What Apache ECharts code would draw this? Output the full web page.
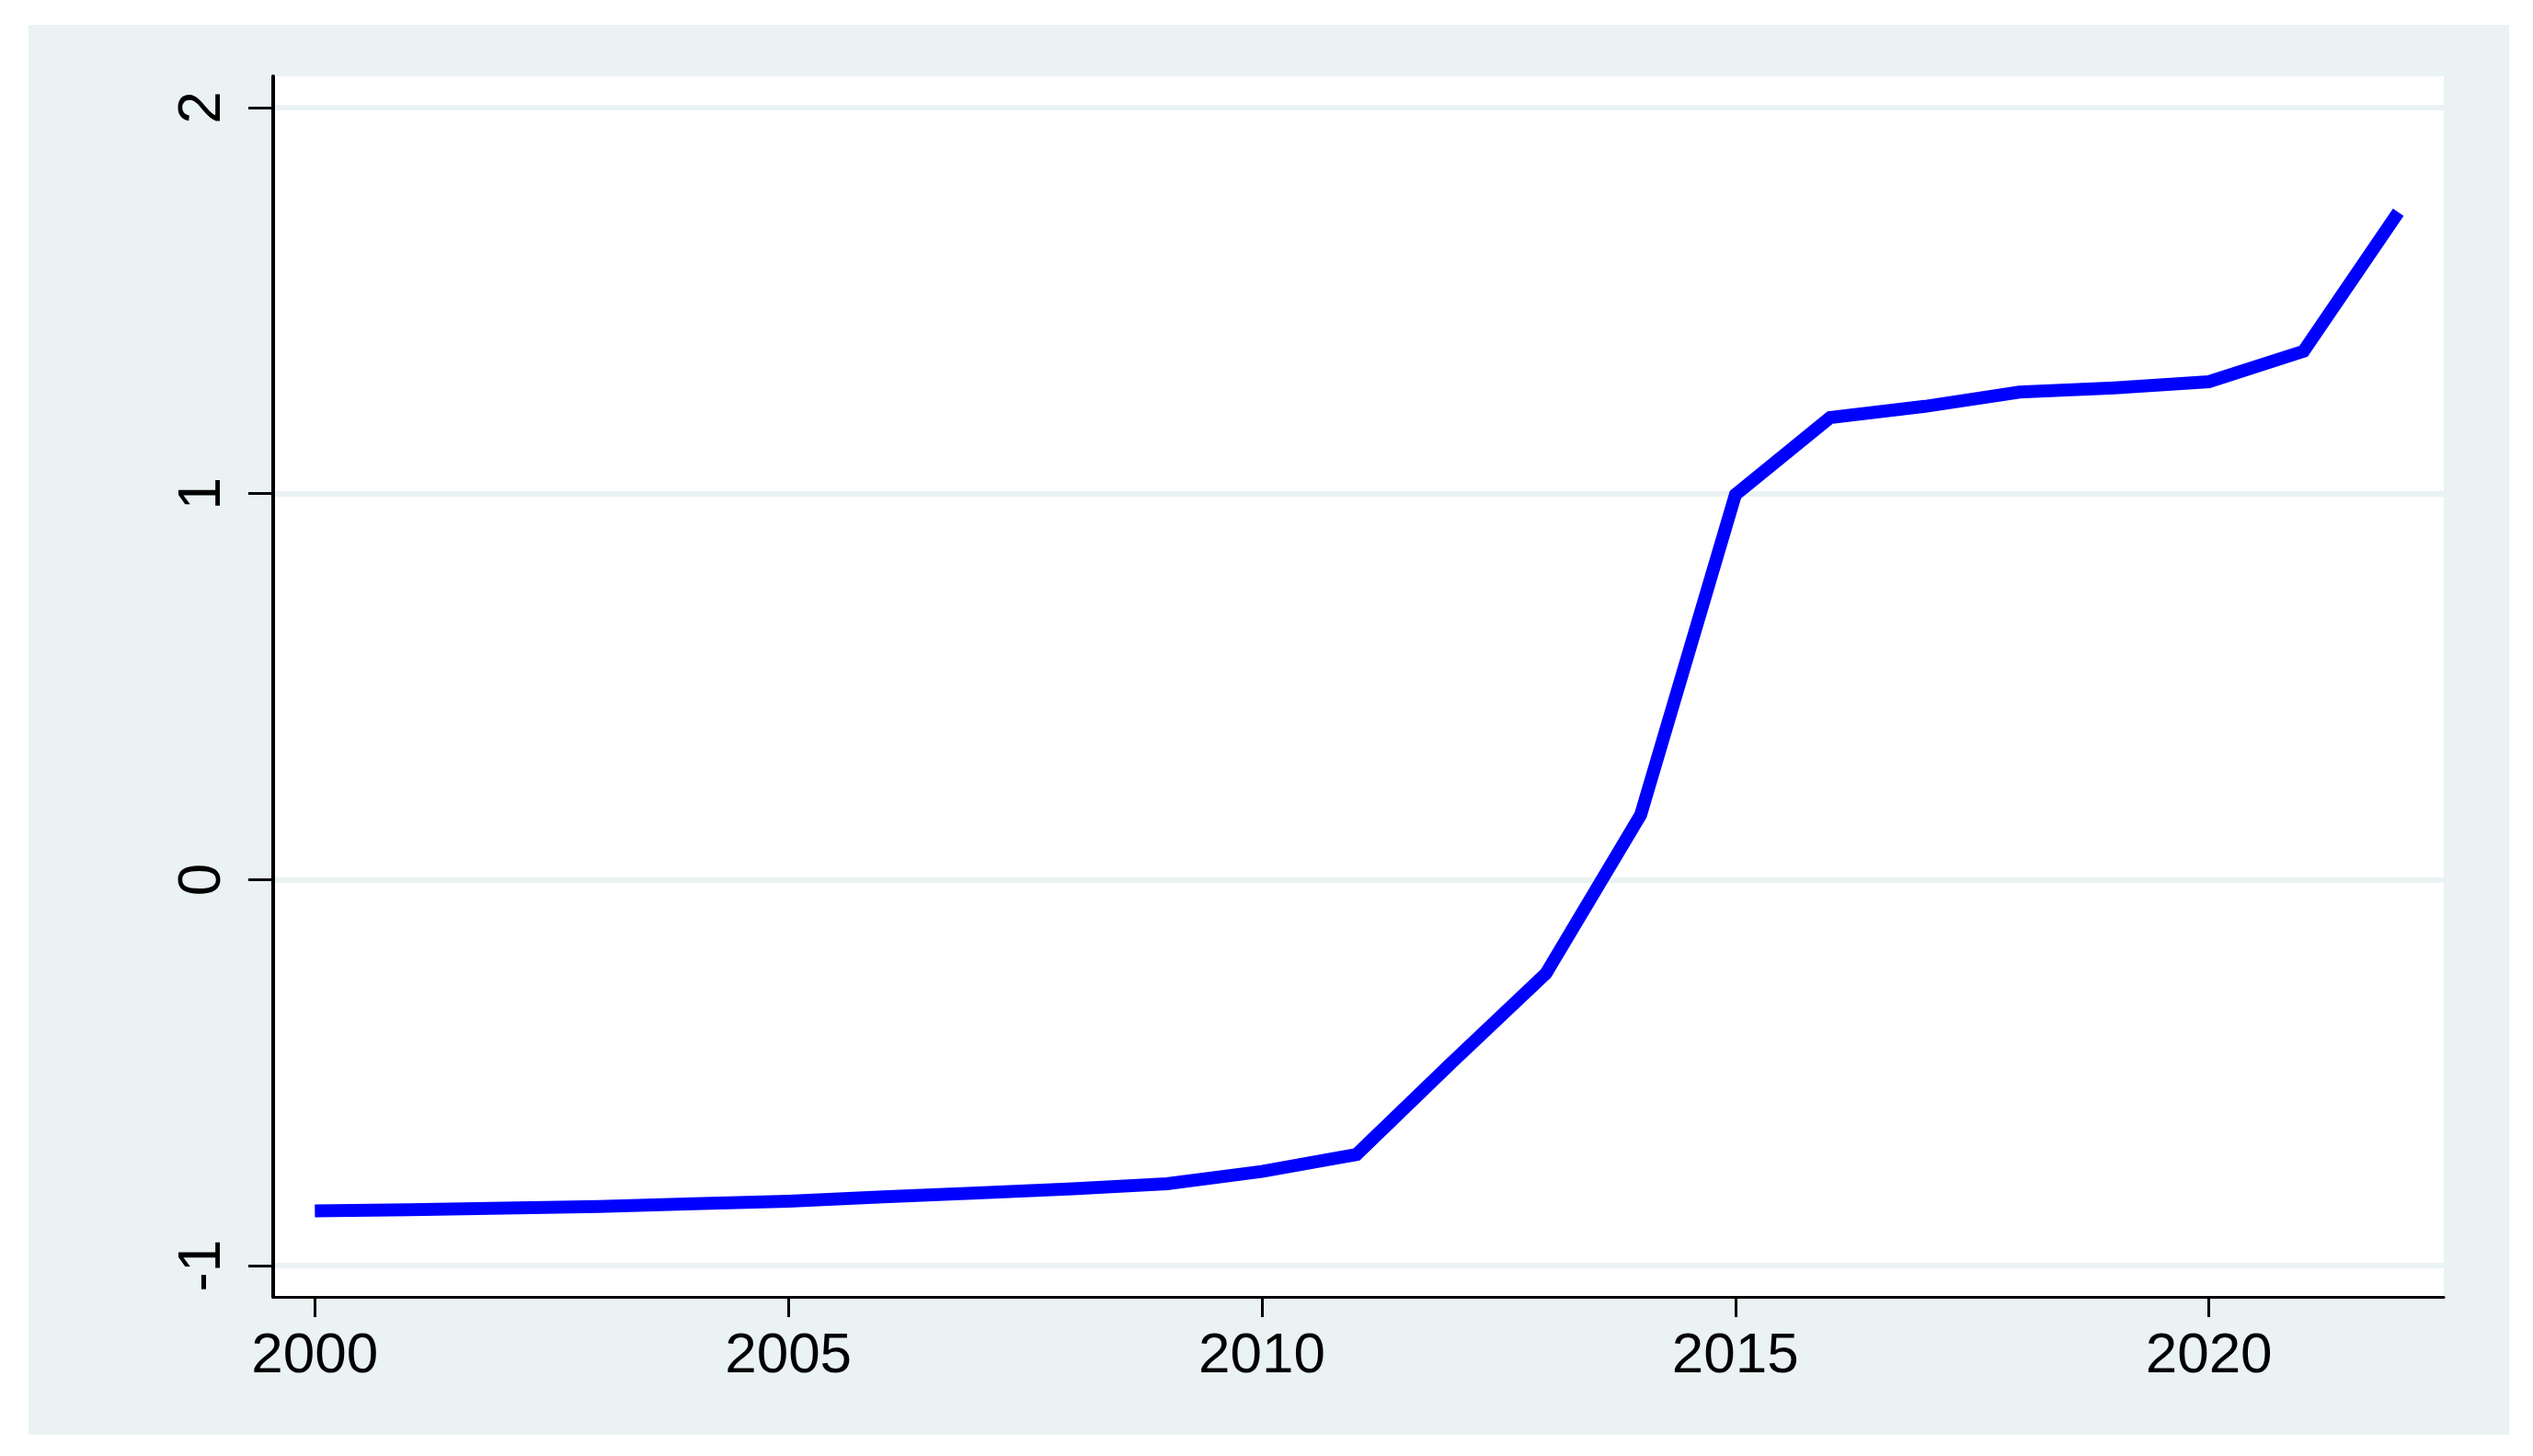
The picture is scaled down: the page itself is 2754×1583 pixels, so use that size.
<!DOCTYPE html>
<html>
<head>
<meta charset="utf-8">
<script src="https://cdn.jsdelivr.net/npm/echarts@6/dist/echarts.min.js"></script>
<style>
html,body{margin:0;padding:0;background:#ffffff;width:2754px;height:1583px;overflow:hidden;}
#chart{position:absolute;left:31px;top:27px;width:2697px;height:1533px;}
</style>
</head>
<body>
<div id="chart"></div>
<script>
const years = [2000,2001,2002,2003,2004,2005,2006,2007,2008,2009,2010,2011,2012,2013,2014,2015,2016,2017,2018,2019,2020,2021,2022];
const values = [-0.858,-0.855,-0.851,-0.847,-0.840,-0.833,-0.822,-0.812,-0.801,-0.788,-0.756,-0.712,-0.475,-0.243,0.168,0.997,1.197,1.226,1.263,1.274,1.290,1.369,1.729];
const xTicks = [2000,2005,2010,2015,2020];
const yTicks = [-1,0,1,2];

const chart = echarts.init(document.getElementById('chart'), null, {renderer:'canvas'});
const font = '"Liberation Sans", Arial, Helvetica, sans-serif';
chart.setOption({
  backgroundColor:'#eaf2f3',
  animation:false,
  grid:{left:266, top:56, right:71, bottom:150, show:true, backgroundColor:'#ffffff', borderWidth:0},
  xAxis:{
    type:'value', min:1999.56, max:2022.48,
    axisLine:{show:true, onZero:false, lineStyle:{color:'#000', width:3}},
    axisTick:{show:true, customValues:xTicks, length:22, lineStyle:{color:'#000', width:3}},
    axisLabel:{show:true, customValues:xTicks, margin:34, fontSize:62, color:'#000', fontFamily:font,
      formatter:function(v){return String(Math.round(v));}},
    splitLine:{show:false}
  },
  yAxis:{
    type:'value', min:-1.081, max:2.081,
    axisLine:{show:true, onZero:false, lineStyle:{color:'#000', width:4}},
    axisTick:{show:true, customValues:yTicks, length:27, lineStyle:{color:'#000', width:3}},
    axisLabel:{show:true, customValues:yTicks, rotate:90, margin:44, fontSize:64, color:'#000', fontFamily:font,
      formatter:function(v){return String(Math.round(v));}},
    splitLine:{show:true, lineStyle:{color:'#eaf2f3', width:6}}
  },
  series:[{
    type:'line',
    data: years.map((y,i)=>[y, values[i]]),
    showSymbol:false,
    symbol:'none',
    lineStyle:{color:'#0000ff', width:14, cap:'butt', join:'miter'},
    z:3
  }]
});
</script>
</body>
</html>
